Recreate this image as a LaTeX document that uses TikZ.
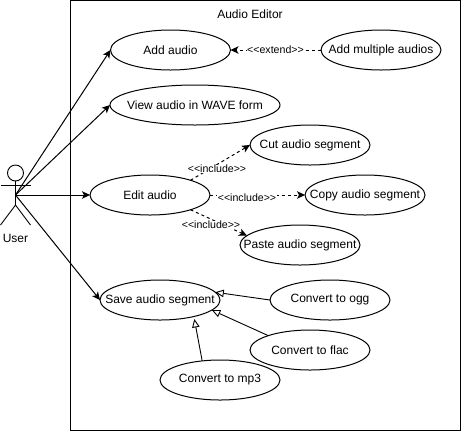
\documentclass[tikz,border=0pt]{standalone}
\usepackage{fontspec}
\setmainfont{Liberation Sans}
\usetikzlibrary{shapes.geometric,arrows.meta}
\tikzset{
  usecase/.style={ellipse,draw=black,fill=white,line width=1pt,inner sep=0pt,outer sep=0pt,
    minimum width=120pt,minimum height=40pt,font=\fontsize{12}{14}\selectfont},
  conn/.style={draw=black,line width=1pt,-{Stealth[length=8pt,width=7.5pt,inset=2pt]}},
  dep/.style={conn,dash pattern=on 3pt off 3pt},
  gen/.style={draw=black,line width=0.9pt,-{Triangle[length=8.5pt,width=7.5pt,fill=white]}},
  lab/.style={fill=white,inner sep=0.5pt,font=\fontsize{10.6}{12}\selectfont},
  txt/.style={inner sep=0pt,font=\fontsize{12}{14}\selectfont},
  actorline/.style={draw=black,line width=0.9pt}
}
\newcommand{\uc}[1]{\makebox[0pt][c]{#1}}
\begin{document}
\begin{tikzpicture}[x=1pt,y=-1pt]
\useasboundingbox (0,0) rectangle (462,432);
\draw[line width=1pt,fill=white] (70.5,0.5) rectangle (460.5,430);
\node[txt] (title) at (250,14) {Audio Editor};
% actor
\node[circle,draw=black,line width=0.9pt,minimum size=16pt,inner sep=0pt] (head) at (15.5,173) {};
\coordinate (hip) at (15.5,205);
\coordinate (actor) at (15.5,195);
\coordinate (armL) at (0.5,185);
\coordinate (armR) at (30.5,185);
\coordinate (footL) at (0.5,225);
\coordinate (footR) at (30.5,225);
\draw[actorline] (head.south) -- (hip);
\draw[actorline] (armL) -- (armR);
\draw[actorline] (footL) -- (hip) -- (footR);
\node[txt] (user) at (15.5,238.5) {User};
% use cases
\node[usecase] (add) at (170.5,50) {\uc{Add audio}};
\node[usecase] (multi) at (381,50) {\uc{Add multiple audios}};
\node[usecase,minimum width=170pt] (view) at (195,105) {\uc{View audio in WAVE form}};
\node[usecase] (edit) at (150,195) {\uc{Edit audio}};
\node[usecase] (cut) at (310,145) {\uc{Cut audio segment}};
\node[usecase] (copy) at (365,195) {\uc{Copy audio segment}};
\node[usecase] (paste) at (300,245) {\uc{Paste audio segment}};
\node[usecase] (save) at (160,300) {\uc{Save audio segment}};
\node[usecase] (ogg) at (330,300) {\uc{Convert to ogg}};
\node[usecase] (flac) at (310,350) {\uc{Convert to flac}};
\node[usecase] (mp3) at (220,380) {\uc{Convert to mp3}};
% actor connectors
\draw[conn] (actor) -- (add.west);
\draw[conn] (actor) -- (view.west);
\draw[conn] (actor) -- (edit.west);
\draw[conn] (actor) -- (save.west);
% dependencies
\draw[dep] (multi.west) -- (add.east);
\draw[dep] (edit.20) -- (cut.west);
\draw[dep] (edit.east) -- (copy.west);
\draw[dep] (edit.-20) -- (paste.170);
\node[lab] (lextend) at (275.5,50) {<{}<{}extend>{}>};
\node[lab] (linc1) at (217,169) {<{}<{}include>{}>};
\node[lab] (linc2) at (247,198) {<{}<{}include>{}>};
\node[lab] (linc3) at (211,225) {<{}<{}include>{}>};
% generalisations
\draw[gen] (ogg.west) -- (save.8);
\draw[gen] (flac.161) -- (save.-11);
\draw[gen,shorten >=2.5pt] (mp3.133) -- (save.-26);
\end{tikzpicture}
\end{document}
